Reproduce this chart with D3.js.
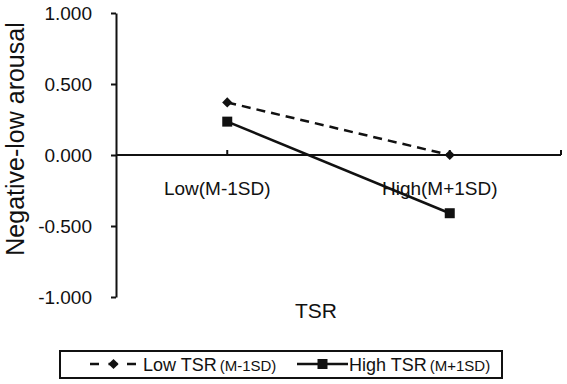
<!DOCTYPE html>
<html>
<head>
<meta charset="utf-8">
<script src="https://cdn.jsdelivr.net/npm/d3@7"></script>
<style>
  body { margin: 0; background: #fff; }
  text { font-family: "Liberation Sans", Arial, sans-serif; fill: #111; }
</style>
</head>
<body>
<div id="chart"></div>
<script>
var svgWidth = 567;
var svgHeight = 384;

// data
var categories = ["Low(M-1SD)", "High(M+1SD)"];
var lowTSR = [0.37, 0.00];
var highTSR = [0.235, -0.41];
var yTicks = [-1, -0.5, 0, 0.5, 1];
var seriesNames = ["Low TSR", "High TSR"];
var seriesSub = ["(M-1SD)", "(M+1SD)"];

var svg = d3.select("#chart")
    .append("svg")
    .attr("width", svgWidth)
    .attr("height", svgHeight);

var x = d3.scalePoint()
    .domain(categories)
    .range([116, 561])
    .padding(0.5);

var y = d3.scaleLinear()
    .domain([-1, 1])
    .range([297, 13]);

// y axis (plain hyphen for negatives, like the original)
var fmt = d => d3.format(".3f")(d).replace("\u2212", "-");
var leftAxis = d3.axisLeft(y)
    .tickValues(yTicks)
    .tickFormat(fmt)
    .tickSize(5)
    .tickSizeOuter(0)
    .tickPadding(19);

var yAxisG = svg.append("g")
    .attr("transform", "translate(116,0)")
    .call(leftAxis);
yAxisG.select(".domain").attr("stroke", "#111").attr("stroke-width", 2);
yAxisG.selectAll(".tick line").attr("stroke", "#111").attr("stroke-width", 2);
yAxisG.selectAll(".tick text")
    .attr("font-size", "19px")
    .attr("fill", "#111")
    .attr("font-family", "Liberation Sans, Arial, sans-serif");

// x axis at zero
var xAxisG = svg.append("g");
xAxisG.append("line")
    .attr("x1", 116).attr("x2", 561)
    .attr("y1", y(0)).attr("y2", y(0))
    .attr("stroke", "#111").attr("stroke-width", 2);
xAxisG.selectAll("line.tk")
    .data([x(categories[0]), x(categories[1]), 561])
    .enter()
    .append("line")
    .attr("class", "tk")
    .attr("x1", d => d).attr("x2", d => d)
    .attr("y1", y(0)).attr("y2", y(0) - 5)
    .attr("stroke", "#111").attr("stroke-width", 2);

xAxisG.selectAll("text")
    .data(categories)
    .enter()
    .append("text")
    .attr("x", d => x(d) - 10)
    .attr("y", 195)
    .attr("text-anchor", "middle")
    .attr("font-size", "19px")
    .text(d => d);

// lines
var line = d3.line()
    .x((d, i) => x(categories[i]))
    .y(d => y(d));

svg.append("path")
    .datum(lowTSR)
    .attr("d", line)
    .attr("fill", "none")
    .attr("stroke", "#111")
    .attr("stroke-width", 2.5)
    .attr("stroke-dasharray", "9,6");

svg.append("path")
    .datum(highTSR)
    .attr("d", line)
    .attr("fill", "none")
    .attr("stroke", "#111")
    .attr("stroke-width", 2.5);

// diamond = square turned 45 degrees
var diamond = d3.symbol().type(d3.symbolSquare).size(52);
var square = d3.symbol().type(d3.symbolSquare).size(100);

svg.selectAll(".pLow")
    .data(lowTSR)
    .enter()
    .append("path")
    .attr("class", "pLow")
    .attr("d", diamond)
    .attr("transform", (d, i) => `translate(${x(categories[i])},${y(d)}) rotate(45)`)
    .attr("fill", "#111");

svg.selectAll(".pHigh")
    .data(highTSR)
    .enter()
    .append("path")
    .attr("class", "pHigh")
    .attr("d", square)
    .attr("transform", (d, i) => `translate(${x(categories[i])},${y(d)})`)
    .attr("fill", "#111");

// axis titles
svg.append("text")
    .attr("transform", "translate(24,139) rotate(-90)")
    .attr("text-anchor", "middle")
    .attr("font-size", "25px")
    .text("Negative-low arousal");

svg.append("text")
    .attr("x", 316)
    .attr("y", 318)
    .attr("text-anchor", "middle")
    .attr("font-size", "21px")
    .text("TSR");

// legend
var legend = svg.append("g");
legend.append("rect")
    .attr("x", 60).attr("y", 351)
    .attr("width", 442).attr("height", 27)
    .attr("fill", "none")
    .attr("stroke", "#111")
    .attr("stroke-width", 2);

var legX = [90, 297];
var legItems = legend.selectAll("g.item")
    .data(seriesNames)
    .enter()
    .append("g")
    .attr("class", "item")
    .attr("transform", (d, i) => `translate(${legX[i]},364)`);

legItems.append("line")
    .attr("x1", 0).attr("x2", (d, i) => i === 0 ? 47 : 51)
    .attr("y1", 0).attr("y2", 0)
    .attr("stroke", "#111")
    .attr("stroke-width", 2.5)
    .attr("stroke-dasharray", (d, i) => i === 0 ? "9,9.5" : null);

legItems.append("path")
    .attr("d", (d, i) => i === 0 ? diamond() : square())
    .attr("transform", (d, i) => i === 0 ? "translate(23.5,0) rotate(45)" : "translate(25.5,0)")
    .attr("fill", "#111");

var legText = legItems.append("text")
    .attr("x", (d, i) => i === 0 ? 53 : 52)
    .attr("y", 7)
    .attr("font-size", "18px");
legText.append("tspan").text(d => d);
legText.append("tspan")
    .attr("dx", 3)
    .attr("font-size", "15px")
    .text((d, i) => seriesSub[i]);
</script>
</body>
</html>
